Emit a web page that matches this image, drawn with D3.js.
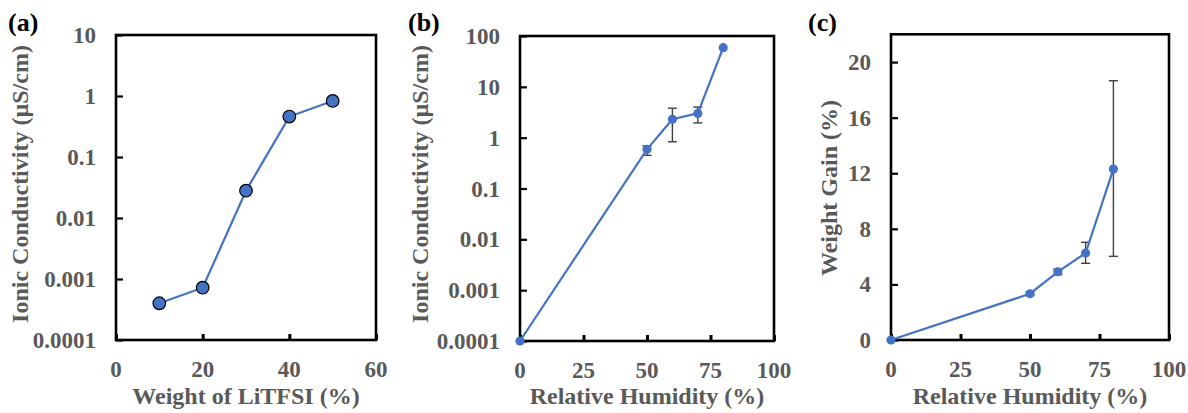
<!DOCTYPE html>
<html><head><meta charset="utf-8">
<script src="https://cdn.jsdelivr.net/npm/d3@7"></script>
<style>body{margin:0;background:#fff}svg{display:block}
svg text{font-family:"Liberation Serif","Times New Roman","DejaVu Serif",serif;font-weight:bold}</style>
</head><body>
<svg id="c" width="1188" height="413"></svg>
<script>
// Panel (a)
const aX = [10, 20, 30, 40, 50];
const aY = [0.0004, 0.00072, 0.028, 0.46, 0.83];
const aXTicks = [0, 20, 40, 60];
const aYTicks = [0.0001, 0.001, 0.01, 0.1, 1, 10];
const aYTickLabels = ["0.0001", "0.001", "0.01", "0.1", "1", "10"];
// Panel (b)
const bX = [0, 50, 60, 70, 80];
const bY = [0.0001, 0.59, 2.3, 3.0, 59];
const bLo = [null, 0.45, 0.83, 1.95, null];
const bHi = [null, 0.69, 3.8, 4.0, null];
const bXTicks = [0, 25, 50, 75, 100];
const bYTicks = [0.0001, 0.001, 0.01, 0.1, 1, 10, 100];
const bYTickLabels = ["0.0001", "0.001", "0.01", "0.1", "1", "10", "100"];
// Panel (c)
const cX = [0, 50, 60, 70, 80];
const cY = [0, 3.33, 4.91, 6.26, 12.3];
const cLo = [null, 3.2, 4.7, 5.52, 6.02];
const cHi = [null, 3.45, 5.1, 7.03, 18.66];
const cXTicks = [0, 25, 50, 75, 100];
const cYTicks = [0, 4, 8, 12, 16, 20];

const svg = d3.select("#c");
svg.append("rect").attr("width",1188).attr("height",413).attr("fill","#fff");
const GRAY = "#595959";
const BLUE = "#4472C4";

function panel(o){
  const g = svg.append("g");
  const x = d3.scaleLinear().domain(o.xDomain).range(o.xRange);
  const y = (o.log ? d3.scaleLog() : d3.scaleLinear()).domain(o.yDomain).range(o.yRange);
  const [x0,x1] = o.xRange, [y0,y1] = o.yRange;
  // inward ticks
  g.append("g").attr("transform",`translate(${x0},0)`)
    .call(d3.axisRight(y).tickValues(o.yTicks).tickSize(7).tickFormat(""))
    .call(s=>{s.select(".domain").remove(); s.selectAll("line").attr("stroke","#000").attr("stroke-width",2.2);});
  g.append("g").attr("transform",`translate(0,${y0})`)
    .call(d3.axisTop(x).tickValues(o.xTicks).tickSize(6).tickFormat(""))
    .call(s=>{s.select(".domain").remove(); s.selectAll("line").attr("stroke","#000").attr("stroke-width",3);});
  // frame
  g.append("rect").attr("x",x0).attr("y",y1).attr("width",x1-x0).attr("height",y0-y1)
    .attr("fill","none").attr("stroke","#000").attr("stroke-width",2.6);
  // tick labels
  g.append("g").selectAll("text").data(o.yTicks).join("text")
    .attr("x",x0-20).attr("y",d=>y(d)).attr("dy","0.35em").attr("text-anchor","end")
    .attr("font-size",23).attr("fill",GRAY)
    .text((d,i)=>o.yLabels ? o.yLabels[i] : d);
  g.append("g").selectAll("text").data(o.xTicks).join("text")
    .attr("x",d=>x(d)).attr("y",y0+37).attr("text-anchor","middle")
    .attr("font-size",23).attr("fill",GRAY)
    .text(d=>d);
  // titles
  g.append("text").attr("x",(x0+x1)/2).attr("y",404).attr("text-anchor","middle")
    .attr("font-size",24).attr("fill",GRAY)
    .text(o.xTitle);
  g.append("text").attr("transform",`translate(${o.yTitleX},${o.yTitleY}) rotate(-90)`)
    .attr("text-anchor","middle")
    .attr("font-size",24).attr("fill",GRAY)
    .text(o.yTitle);
  g.append("text").attr("x",o.labelX).attr("y",31)
    .attr("font-size",26).attr("fill","#000")
    .text(o.label);
  // error bars
  if (o.lo){
    const eb = g.append("g").attr("stroke","#404040").attr("stroke-width",1.4);
    o.xs.forEach((xv,i)=>{
      if (o.lo[i]==null) return;
      const px = x(xv);
      eb.append("line").attr("x1",px).attr("x2",px).attr("y1",y(o.lo[i])).attr("y2",y(o.hi[i]));
      [o.lo[i],o.hi[i]].forEach(v=>eb.append("line").attr("x1",px-4.5).attr("x2",px+4.5).attr("y1",y(v)).attr("y2",y(v)));
    });
  }
  const pts = o.xs.map((d,i)=>[d,o.ys[i]]);
  g.append("path").datum(pts).attr("fill","none").attr("stroke",BLUE).attr("stroke-width",2.2)
    .attr("d",d3.line().x(d=>x(d[0])).y(d=>y(d[1])));
  g.append("g").selectAll("circle").data(pts).join("circle")
    .attr("cx",d=>x(d[0])).attr("cy",d=>y(d[1])).attr("r",o.r)
    .attr("fill",BLUE).attr("stroke",o.markerStroke||"none").attr("stroke-width",1.2);
}

panel({xDomain:[0,60], xRange:[116,376], yDomain:[1e-4,10], yRange:[340,35], log:true,
  xTicks:aXTicks, yTicks:aYTicks, yLabels:aYTickLabels, xs:aX, ys:aY, r:6.3, markerStroke:"#000",
  xTitle:"Weight of LiTFSI (%)", yTitle:"Ionic Conductivity (µS/cm)", yTitleX:28, yTitleY:184,
  label:"(a)", labelX:8});
panel({xDomain:[0,100], xRange:[520,774], yDomain:[1e-4,100], yRange:[341,36], log:true,
  xTicks:bXTicks, yTicks:bYTicks, yLabels:bYTickLabels, xs:bX, ys:bY, lo:bLo, hi:bHi, r:4.6,
  xTitle:"Relative Humidity (%)", yTitle:"Ionic Conductivity (µS/cm)", yTitleX:428, yTitleY:184,
  label:"(b)", labelX:408});
panel({xDomain:[0,100], xRange:[891,1169], yDomain:[0,22], yRange:[340,34.3], log:false,
  xTicks:cXTicks, yTicks:cYTicks, xs:cX, ys:cY, lo:cLo, hi:cHi, r:4.6,
  xTitle:"Relative Humidity (%)", yTitle:"Weight Gain (%)", yTitleX:837, yTitleY:188,
  label:"(c)", labelX:808});
</script>
</body></html>
